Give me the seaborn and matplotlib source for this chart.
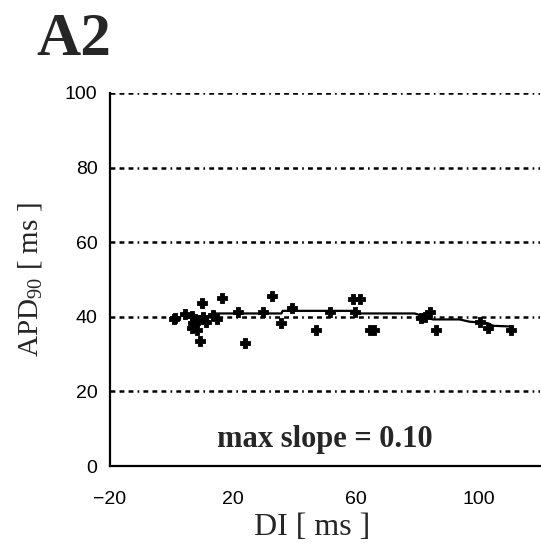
import matplotlib
matplotlib.use('Agg')
import matplotlib.pyplot as plt
import pandas as pd
import seaborn as sns

# scatter points: DI [ms], APD90 [ms]
di = [0.8, 1.1, 4.4, 6.6, 7.1, 6.6, 8.2, 8.7, 10.3, 9.8, 16.3, 9.3, 13.6, 14.7,
      11.4, 21.7, 23.9, 29.9, 32.6, 39.1, 35.8, 47.2, 51.5, 59.1, 61.3, 59.7,
      64.6, 65.9, 81.4, 82.7, 84.1, 86.2, 100.3, 103.0, 110.6]
apd = [39.3, 39.6, 40.8, 40.2, 38.3, 36.9, 36.5, 39.1, 40.0, 43.8, 45.0, 33.6,
       40.5, 39.3, 38.7, 41.4, 32.9, 41.4, 45.7, 42.3, 38.4, 36.5, 41.4, 44.7,
       44.7, 41.4, 36.6, 36.5, 39.6, 40.0, 41.4, 36.5, 38.7, 36.9, 36.5]

# fitted restitution curve
fit_di = [13.6, 35.8, 36.2, 59.1, 60.1, 79.2, 85.1, 93.8, 97.0, 103.0, 104.7, 110.6]
fit_apd = [40.9, 40.9, 41.6, 41.6, 40.9, 40.9, 39.3, 39.3, 38.7, 38.3, 37.6, 37.4]

xticks = [-20, 20, 60, 100]
yticks = [0, 20, 40, 60, 80, 100]

pts = pd.DataFrame({'DI': di, 'APD': apd})
fit = pd.DataFrame({'DI': fit_di, 'APD': fit_apd})

sns.set_style('white')
plt.rcParams['font.family'] = ['Liberation Sans', 'DejaVu Sans']
plt.rcParams['lines.scale_dashes'] = False
plt.rcParams['mathtext.fontset'] = 'custom'
plt.rcParams['mathtext.rm'] = 'Liberation Serif'

fig = plt.figure(figsize=(5.41, 5.47), dpi=100)
ax = fig.add_axes([0.2033, 0.148, 0.795, 0.682])

# horizontal dash-dot grid
for y in yticks[1:]:
    ax.axhline(y, color='black', linewidth=1.8,
               linestyle=(0, (3.5, 3, 3.5, 3, 3.5, 3, 1.2, 3)), zorder=1)

sns.lineplot(data=fit, x='DI', y='APD', color='black', linewidth=1.6,
             ax=ax, zorder=3, sort=False)
sns.scatterplot(data=pts, x='DI', y='APD', color='black', marker='P', s=60,
                edgecolor='black', linewidth=0.6, ax=ax, zorder=4)

ax.set_xlim(-20, 120)
ax.set_ylim(0, 100)
ax.set_xticks(xticks)
ax.set_yticks(yticks)
ax.tick_params(direction='in', length=4, width=1.3, labelsize=14, colors='black')
ax.tick_params(axis='x', pad=18)
ax.tick_params(axis='y', pad=9)

for s in ['top', 'right']:
    ax.spines[s].set_visible(False)
for s in ['left', 'bottom']:
    ax.spines[s].set_linewidth(1.6)
    ax.spines[s].set_color('black')

ax.set_xlabel('DI [ ms ]', family='Liberation Serif', fontsize=23)
ax.set_ylabel('APD$_{90}$ [ ms ]', family='Liberation Serif', fontsize=21)
ax.xaxis.set_label_coords(0.47, -0.125)
ax.yaxis.set_label_coords(-0.15, 0.5)

ax.text(0.5, 0.07, 'max slope = 0.10', transform=ax.transAxes, ha='center',
        va='center', family='Liberation Serif', fontweight='bold', fontsize=22)

fig.text(0.068, 0.927, 'A2', family='Liberation Serif', fontweight='bold',
         fontsize=44, ha='left', va='center')

fig.savefig('out.png', dpi=100)
